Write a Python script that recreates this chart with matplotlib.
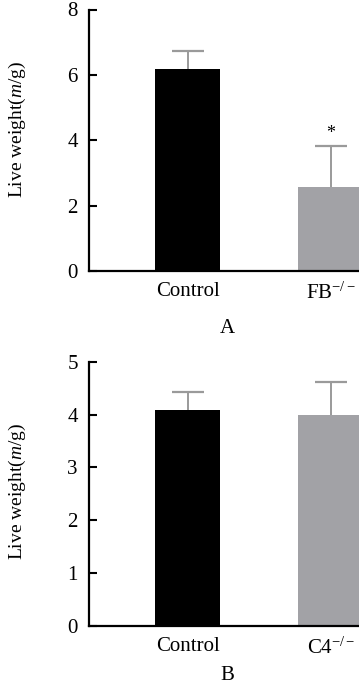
import numpy as np
import matplotlib
matplotlib.use("Agg")
import matplotlib.pyplot as plt

plt.rcParams['font.family'] = ['Liberation Serif', 'DejaVu Serif']
plt.rcParams['mathtext.fontset'] = 'custom'
plt.rcParams['mathtext.rm'] = 'Liberation Serif'
plt.rcParams['mathtext.it'] = 'Liberation Serif:italic'

# 数据
groups_a = ['Control', 'FB$^{-/-}$']
mean_a = [6.18, 2.58]
err_a = [0.54, 1.24]

groups_b = ['Control', 'C4$^{-/-}$']
mean_b = [4.08, 4.00]
err_b = [0.35, 0.61]

bar_colors = ['#000000', '#a2a2a6']

W, H = 359, 683
fig = plt.figure(figsize=(W / 100, H / 100), dpi=100)


def panel(top_px, bottom_px, groups, means, errs, ymax, yticks, label_y=0.5, star=None):
    ax = fig.add_axes([89 / W, (H - bottom_px) / H, 270 / W, (bottom_px - top_px) / H])
    x = np.arange(len(groups))
    ax.bar(x, means, width=0.455, color=bar_colors, zorder=2)
    lo = np.zeros(len(errs))
    _, caps, bars = ax.errorbar(x, means, yerr=[lo, errs], fmt='none', ecolor='#9a9a9a',
                                elinewidth=1.4, capsize=11.5, capthick=1.6, zorder=3)
    caps[0].set_visible(False)  # 只要上方误差线
    caps[1].set_color('#555555')
    if star is not None:
        ax.annotate('*', (x[star], means[star] + errs[star]), xytext=(0, 3),
                    textcoords='offset points', ha='center', va='bottom', fontsize=13)
    ax.set_xlim(-0.692, 1.196)
    ax.set_ylim(0, ymax)
    ax.set_yticks(yticks)
    ax.set_xticks(x)
    ax.set_xticklabels(groups)
    ax.tick_params(axis='x', length=0, pad=8, labelsize=15)
    ax.tick_params(axis='y', direction='in', length=6, width=1.5, pad=8, labelsize=15)
    for s in ['top', 'right']:
        ax.spines[s].set_visible(False)
    for s in ['left', 'bottom']:
        ax.spines[s].set_linewidth(1.6)
    ax.set_ylabel('Live weight($m$/g)', fontsize=14)
    ax.yaxis.set_label_coords(-0.226, label_y)
    return ax


panel(9.5, 271, groups_a, mean_a, err_a, 8, [0, 2, 4, 6, 8], label_y=0.54, star=1)
panel(361.7, 626, groups_b, mean_b, err_b, 5, [0, 1, 2, 3, 4, 5], label_y=0.51)

fig.text(227 / W, 1 - 329 / H, 'A', ha='center', va='center', fontsize=15)
fig.text(227 / W, 1 - 675 / H, 'B', ha='center', va='center', fontsize=15)

plt.savefig('out.png', dpi=100)
